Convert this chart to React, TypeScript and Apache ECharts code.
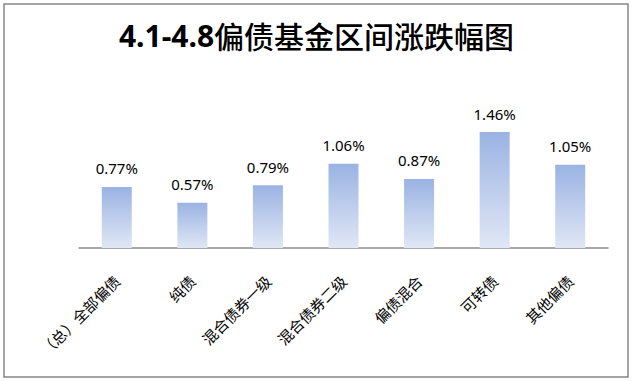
import React, { useEffect, useRef } from "react";
import * as echarts from "echarts";

const titleLatin = "4.1-4.8";
const titleCJK = "偏债基金区间涨跌幅图";
const categories = ["（总）全部偏债", "纯债", "混合债券一级", "混合债券二级", "偏债混合", "可转债", "其他偏债"];
const values = [0.77, 0.57, 0.79, 1.06, 0.87, 1.46, 1.05];

export default function App() {
  const ref = useRef<HTMLDivElement>(null);
  useEffect(() => {
    if (!ref.current) return;
    const chart = echarts.init(ref.current, null, { renderer: "svg" });
    chart.setOption({
      animation: false,
      backgroundColor: "#ffffff",
      title: {
        text: `{a|${titleLatin}}{b|${titleCJK}}`,
        left: "center",
        top: 15,
        textStyle: {
          rich: {
            a: { fontFamily: "Noto Sans", fontWeight: "bold", fontSize: 30, color: "#000" },
            b: { fontFamily: "Noto Sans CJK SC", fontWeight: 500, fontSize: 30, color: "#000" },
          },
        },
      },
      graphic: [
        {
          type: "rect",
          shape: { x: 4, y: 4, width: 624, height: 373 },
          style: { fill: "none", stroke: "#878787", lineWidth: 1.5 },
          silent: true,
        },
      ],
      grid: { left: 79, right: 25, top: 121, bottom: 133, containLabel: false },
      xAxis: {
        type: "category",
        data: categories,
        axisLine: { lineStyle: { color: "#8c8c8c", width: 1.5 } },
        axisTick: { show: false },
        axisLabel: {
          rotate: 45,
          margin: 30,
          interval: 0,
          fontSize: 15,
          color: "#000",
          fontFamily: "Noto Sans CJK SC",
        },
      },
      yAxis: {
        type: "value",
        min: 0,
        max: 1.6,
        show: false,
        splitLine: { show: false },
      },
      series: [
        {
          type: "bar",
          data: values,
          barWidth: 30,
          itemStyle: {
            color: new echarts.graphic.LinearGradient(0, 0, 0, 1, [
              { offset: 0, color: "#9ab3e3" },
              { offset: 1, color: "#e0e7f5" },
            ]),
          },
          label: {
            show: true,
            position: "top",
            distance: 11,
            formatter: (p: any) => p.value.toFixed(2) + "%",
            fontSize: 15,
            fontFamily: "Noto Sans",
            color: "#000",
          },
        },
      ],
    });
    return () => chart.dispose();
  }, []);
  return (
    <div
      ref={ref}
      style={{ position: "fixed", left: 0, top: 0, width: 633, height: 381 }}
    />
  );
}
